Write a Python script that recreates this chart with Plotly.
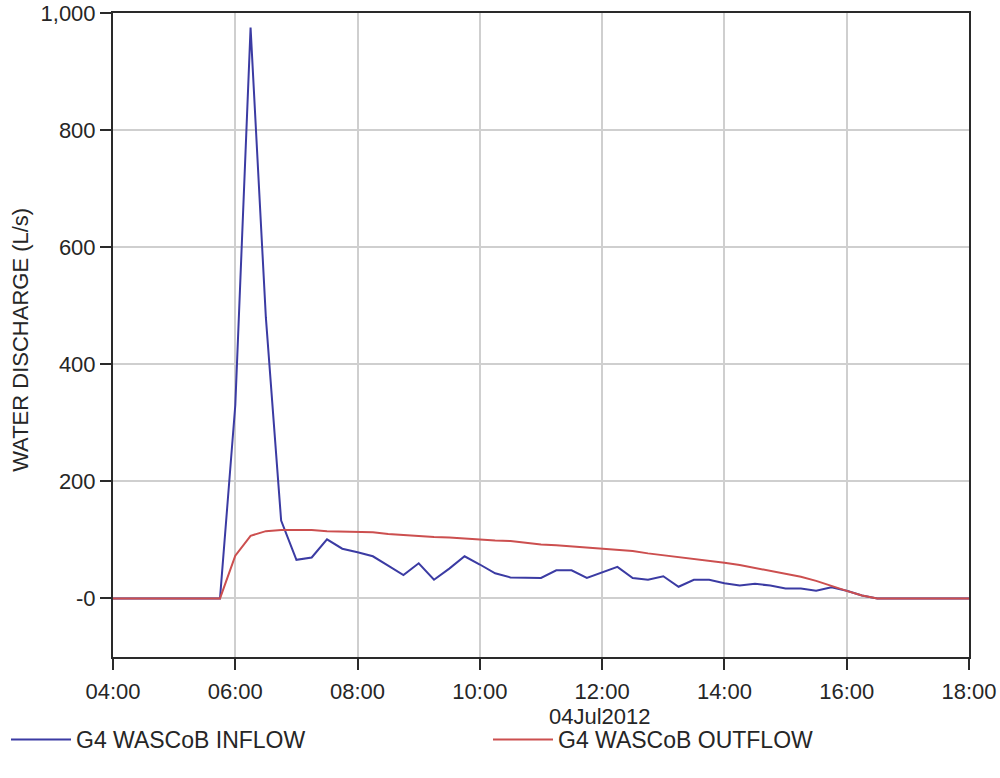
import pandas as pd
import plotly.graph_objects as go

# 15-minute time stamps, 04:00 .. 18:00 on 04 Jul 2012
times = pd.date_range("2012-07-04 04:00", "2012-07-04 18:00", freq="15min")

inflow = [
    0, 0, 0, 0, 0, 0, 0, 0,            # 04:00 - 05:45
    330, 975, 480, 133,                # 06:00 - 06:45
    66, 70, 101, 85,                   # 07:00 - 07:45
    79, 72, 56, 40,                    # 08:00 - 08:45
    60, 32, 51, 72,                    # 09:00 - 09:45
    58, 43, 36, 35,                    # 10:00 - 10:45
    35, 48, 48, 35,                    # 11:00 - 11:45
    45, 54, 35, 32,                    # 12:00 - 12:45
    38, 20, 32, 32,                    # 13:00 - 13:45
    26, 22, 25, 22,                    # 14:00 - 14:45
    17, 17, 13, 19,                    # 15:00 - 15:45
    13, 5, 0, 0,                       # 16:00 - 16:45
    0, 0, 0, 0,                        # 17:00 - 17:45
    0,                                 # 18:00
]

outflow = [
    0, 0, 0, 0, 0, 0, 0, 0,            # 04:00 - 05:45
    73, 107, 115, 117,                 # 06:00 - 06:45
    117, 117, 115, 114,                # 07:00 - 07:45
    114, 113, 110, 108,                # 08:00 - 08:45
    107, 105, 104, 102,                # 09:00 - 09:45
    101, 99, 98, 95,                   # 10:00 - 10:45
    92, 91, 89, 86,                    # 11:00 - 11:45
    85, 83, 81, 77,                    # 12:00 - 12:45
    74, 71, 68, 64,                    # 13:00 - 13:45
    61, 57, 52, 48,                    # 14:00 - 14:45
    43, 37, 30, 21,                    # 15:00 - 15:45
    13, 5, 0, 0,                       # 16:00 - 16:45
    0, 0, 0, 0,                        # 17:00 - 17:45
    0,                                 # 18:00
]

y_tickvals = [0, 200, 400, 600, 800, 1000]
y_ticktext = ["-0", "200", "400", "600", "800", "1,000"]
x_title = "04Jul2012"
y_title = "WATER DISCHARGE (L/s)"
series_names = ["G4 WASCoB INFLOW", "G4 WASCoB OUTFLOW"]

FONT = "Liberation Sans, Arial, sans-serif"
AXIS_COLOR = "#2a2a2a"
GRID_COLOR = "#cfcfcf"
TEXT_COLOR = "#262626"

fig = go.Figure()
fig.add_trace(go.Scatter(x=times, y=inflow, mode="lines", name=series_names[0],
                         line=dict(color="#3b3ba3", width=2)))
fig.add_trace(go.Scatter(x=times, y=outflow, mode="lines", name=series_names[1],
                         line=dict(color="#cc4f4f", width=2)))

fig.update_layout(
    width=1000, height=778,
    margin=dict(l=113, r=31, t=13, b=121, autoexpand=False),
    paper_bgcolor="white", plot_bgcolor="white",
    font=dict(family=FONT, size=22, color=TEXT_COLOR),
    showlegend=True,
    legend=dict(orientation="h", x=-0.125, xanchor="left", y=-0.128, yanchor="middle",
                font=dict(family=FONT, size=23, color=TEXT_COLOR),
                entrywidth=407, entrywidthmode="pixels", itemwidth=60,
                bgcolor="rgba(0,0,0,0)"),
    annotations=[
        dict(text=x_title, xref="paper", yref="paper", x=0.569, y=-0.0925,
             xanchor="center", yanchor="middle", showarrow=False,
             font=dict(family=FONT, size=22, color=TEXT_COLOR)),
        dict(text=y_title, xref="paper", yref="paper", x=-0.109, y=0.492,
             xanchor="center", yanchor="middle", showarrow=False, textangle=-90,
             font=dict(family=FONT, size=22, color=TEXT_COLOR)),
    ],
)

fig.update_xaxes(
    type="date", automargin=False,
    range=["2012-07-04 04:00", "2012-07-04 18:00"],
    dtick=2 * 3600 * 1000, tick0="2012-07-04 04:00", tickformat="%H:%M",
    showgrid=True, gridcolor=GRID_COLOR, gridwidth=1.5,
    showline=True, linecolor=AXIS_COLOR, linewidth=2, mirror=True,
    ticks="outside", ticklen=11, tickwidth=2, tickcolor=AXIS_COLOR,
    ticklabelstandoff=3,
    tickfont=dict(family=FONT, size=22, color=TEXT_COLOR),
    zeroline=False,
)
fig.update_yaxes(
    range=[-100, 1000], automargin=False,
    tickmode="array", tickvals=y_tickvals, ticktext=y_ticktext,
    showgrid=True, gridcolor=GRID_COLOR, gridwidth=1.5,
    showline=True, linecolor=AXIS_COLOR, linewidth=2, mirror=True,
    ticks="outside", ticklen=11, tickwidth=2, tickcolor=AXIS_COLOR,
    tickfont=dict(family=FONT, size=22, color=TEXT_COLOR),
    zeroline=False,
)

fig.write_html("out.html")
